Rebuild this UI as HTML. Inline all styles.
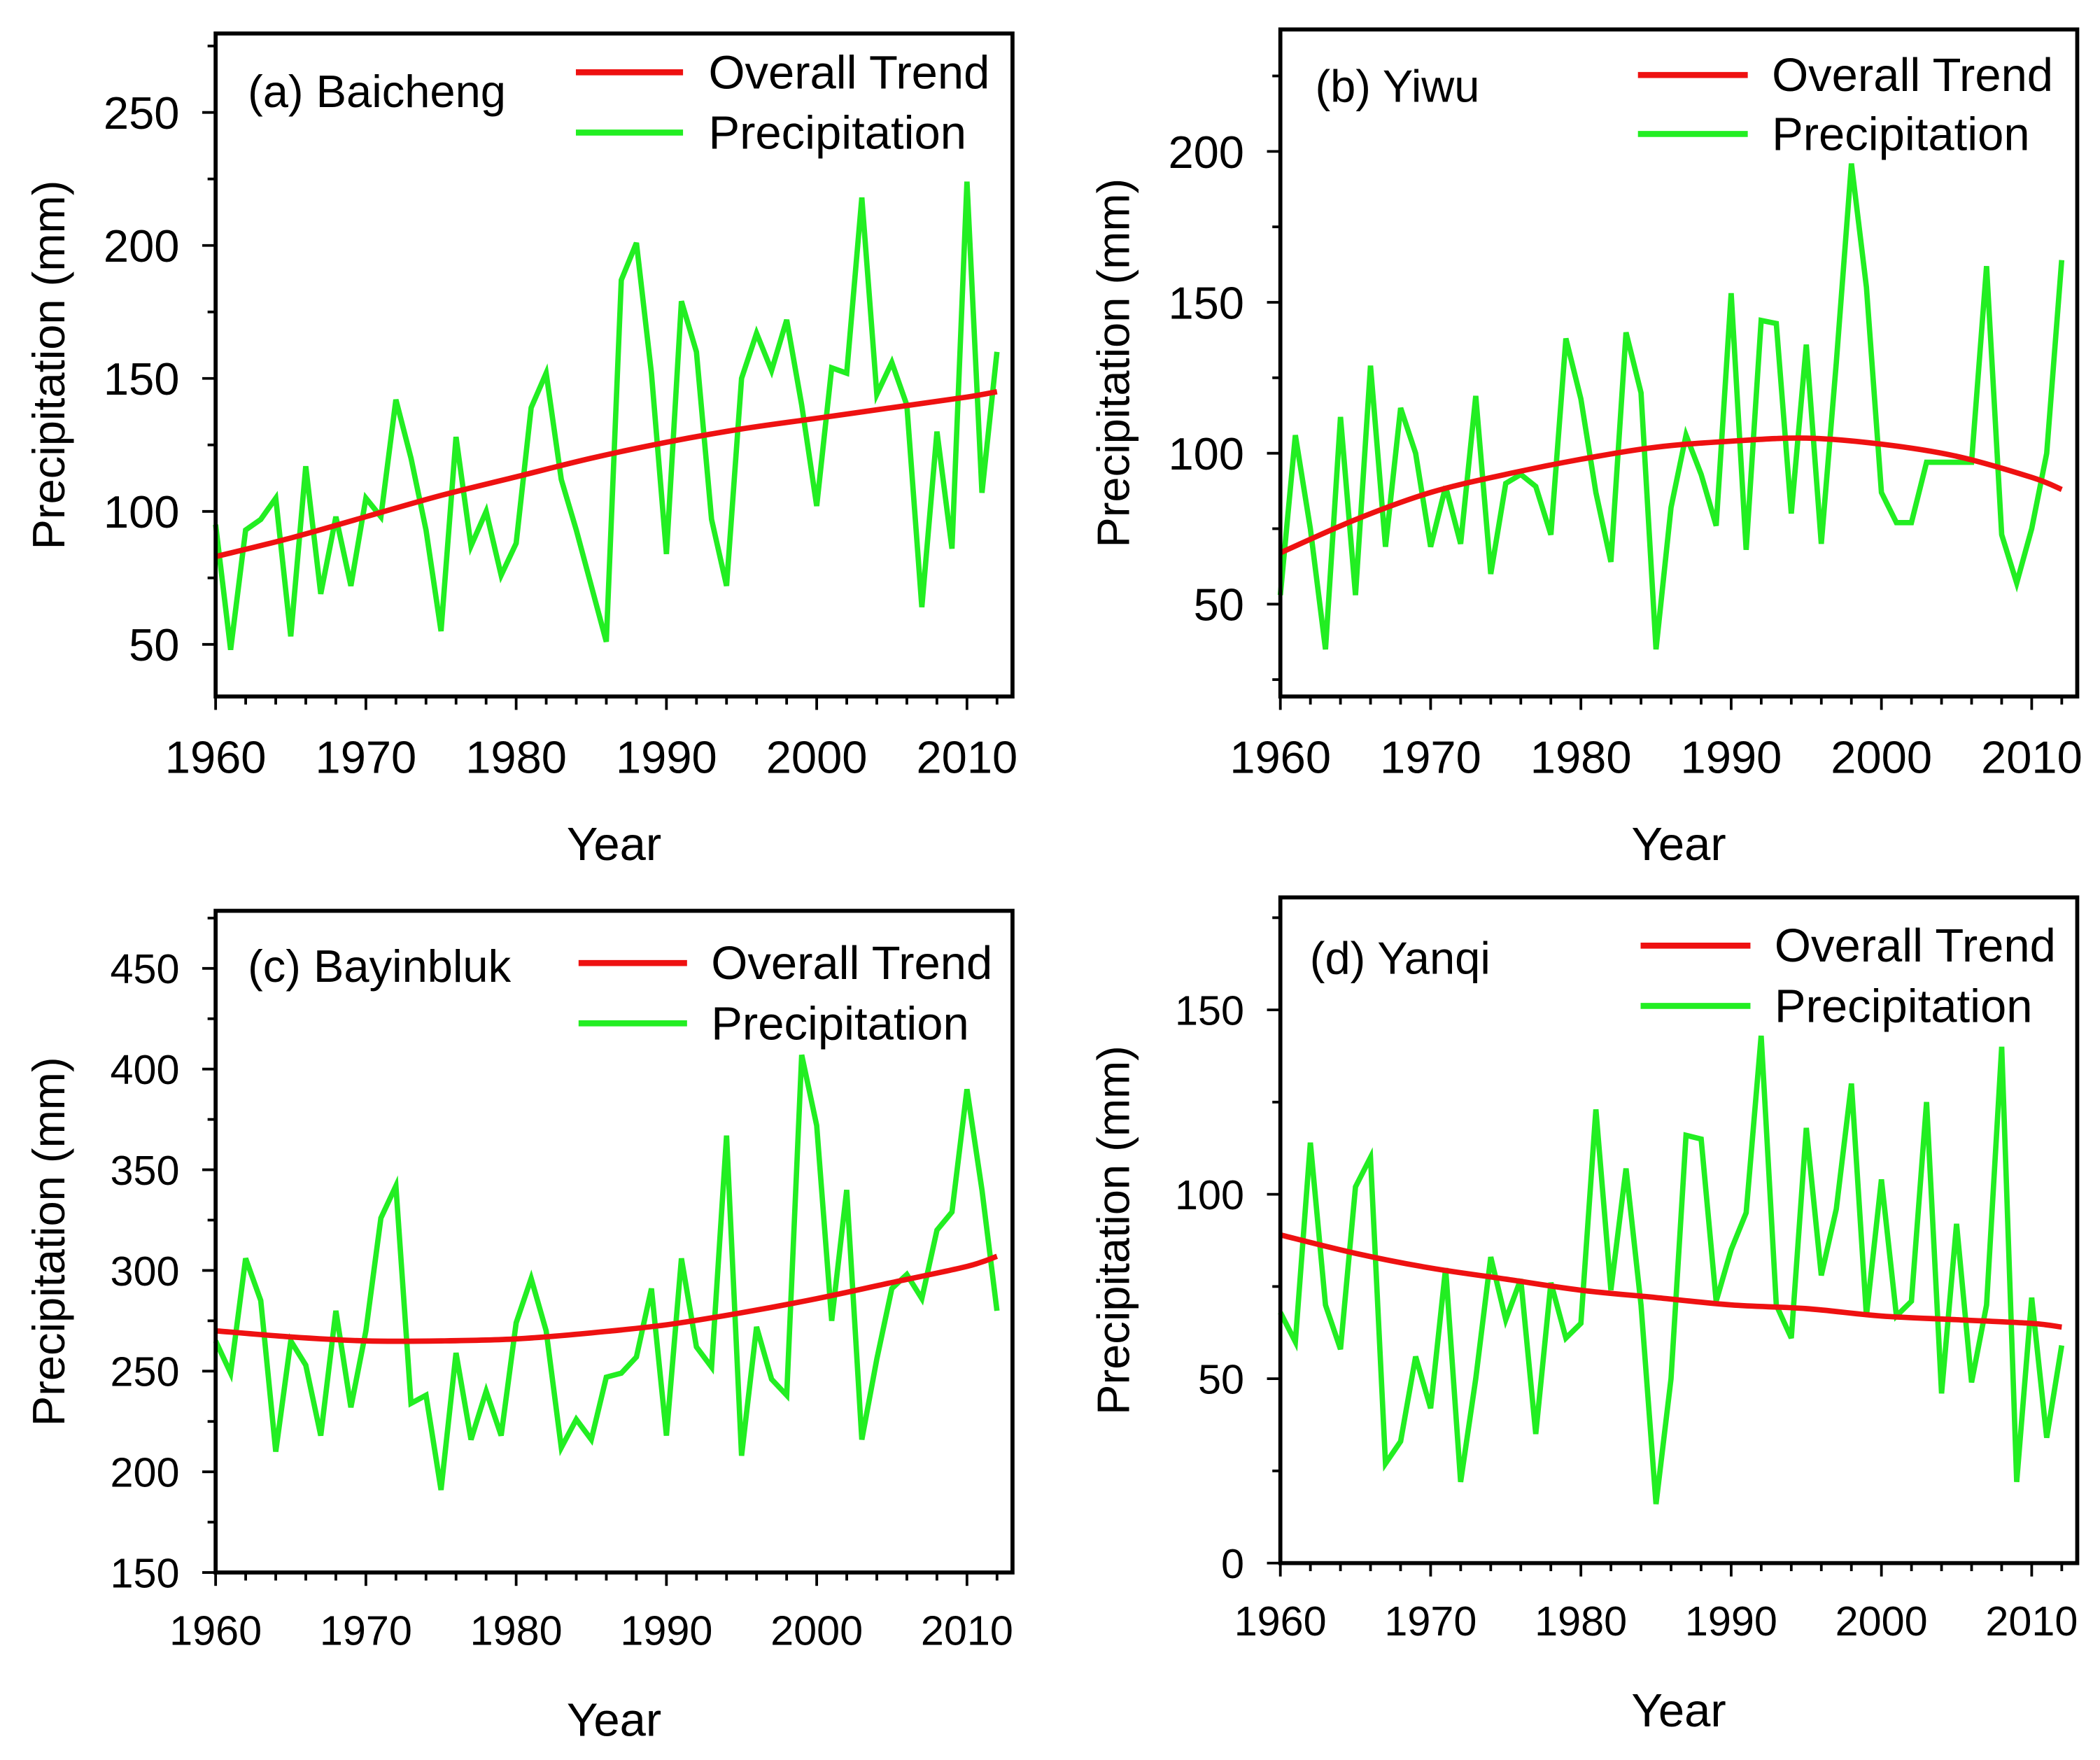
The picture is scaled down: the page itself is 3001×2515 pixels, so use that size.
<!DOCTYPE html>
<html><head><meta charset="utf-8"><style>
html,body{margin:0;padding:0;background:#fff}
svg{display:block}
text{font-family:"Liberation Sans",Arial,sans-serif;fill:#000}
</style></head><body>
<svg id="chart" width="3001" height="2515" viewBox="0 0 1568 1314" preserveAspectRatio="none" xmlns="http://www.w3.org/2000/svg"></svg>
<script>
const years = []; for (let y = 1960; y <= 2012; y++) years.push(y);
const trendYears = [1960,1965,1970,1975,1980,1985,1990,1995,2000,2005,2010,2012];

const precipA = [95,48,93,97,105,53,117,69,98,72,105,98,142,120,93,55,128,87,100,76,88,139,152,112,93,72,51,187,201,152,84,179,160,97,72,150,167,153,172,140,102,154,152,218,144,156,140,64,130,86,224,107,160];
const trendA = [83,90,98,106,113,120,126,131,135,139,143,145];
const precipB = [53,106,75,35,112,53,129,69,115,100,69,89,70,119,60,90,93,89,73,138,118,87,64,140,120,35,82,106,93,76,153,68,144,143,80,136,70,130,196,155,87,77,77,97,97,97,97,162,73,57,75,100,164];
const trendB = [67,78,87,93,98,102,104,105,103,99,92,88];
const precipC = [265,249,306,285,210,265,253,218,280,232,270,326,342,234,238,191,259,216,240,218,274,296,270,212,226,216,247,249,257,291,218,306,262,252,367,208,272,246,238,407,372,275,340,216,256,291,298,286,320,329,390,340,280];
const trendC = [270,267,265,265,266,269,273,279,286,294,302,307];
const precipD = [68,60,114,70,58,102,110,27,33,56,42,80,22,50,83,66,77,35,76,61,65,123,74,107,70,16,50,116,115,71,85,95,143,70,61,118,78,96,130,67,104,67,71,125,46,92,49,70,140,22,72,34,59];
const trendD = [89,84,80,77,74,72,70,69,67,66,65,64];

const yTicksA = [50,100,150,200,250];
const yTicksB = [50,100,150,200];
const yTicksC = [150,200,250,300,350,400,450];
const yTicksD = [0,50,100,150];
const xTicks = [1960,1970,1980,1990,2000,2010];

const NS = "http://www.w3.org/2000/svg";
const svg = document.getElementById('chart');
function el(tag, attrs, parent){const e=document.createElementNS(NS,tag);for(const k in attrs)e.setAttribute(k,attrs[k]);(parent||svg).appendChild(e);return e;}

const panels = [
 {id:'a',name:'(a) Baicheng',x0:161,x1:756,y0:25,y1:520,ymin:30.4,ymax:279.7,ticks:yTicksA,minor:25,p:precipA,t:trendA,fs:34,lab:[185,80],leg:[430,510,54,99,529]},
 {id:'b',name:'(b) Yiwu',x0:956,x1:1551,y0:22,y1:520,ymin:19.4,ymax:240.4,ticks:yTicksB,minor:25,p:precipB,t:trendB,fs:34,lab:[982,76],leg:[1223,1305,56,100,1323]},
 {id:'c',name:'(c) Bayinbluk',x0:161,x1:756,y0:680,y1:1174,ymin:150,ymax:478.6,ticks:yTicksC,minor:25,p:precipC,t:trendC,fs:31,lab:[185,733],leg:[432,513,719,764,531]},
 {id:'d',name:'(d) Yanqi',x0:956,x1:1551,y0:670,y1:1167,ymin:0,ymax:180.5,ticks:yTicksD,minor:25,p:precipD,t:trendD,fs:31,lab:[978,727],leg:[1225,1307,706,751,1325]}
];

panels.forEach(P=>{
  const g = el('g',{});
  
  
  const X = v => P.x0 + (v-1960)/(2013.03-1960)*(P.x1-P.x0);
  const Y = v => P.y1 - (v-P.ymin)/(P.ymax-P.ymin)*(P.y1-P.y0);
  for(let v=Math.ceil(P.ymin/P.minor)*P.minor; v<=P.ymax; v+=P.minor){
    const major = P.ticks.includes(v);
    const t = el('line',{x1:P.x0,x2:P.x0-(major?10:6),y1:Y(v),y2:Y(v),stroke:'#000','stroke-width':2},g);
    
    
  }
  P.ticks.forEach(v=>{
    const t = el('text',{x:P.x0-27,y:Y(v)+P.fs*0.36,'text-anchor':'end','font-size':P.fs},g);
    t.textContent=v;
    
    
  });
  for(let v=1960; v<=2012; v+=2){
    const major = xTicks.includes(v);
    const t = el('line',{x1:X(v),x2:X(v),y1:P.y1,y2:P.y1+(major?10:6),stroke:'#000','stroke-width':2},g);
    
    
  }
  xTicks.forEach(v=>{
    const t = el('text',{x:X(v),y:P.y1+P.fs+23,'text-anchor':'middle','font-size':P.fs},g);
    t.textContent=v;
    
    
  });
  const xt = el('text',{x:(P.x0+P.x1)/2,y:P.y1+122,'text-anchor':'middle','font-size':35},g);
  xt.textContent='Year';
  
  
  const ym=(P.y0+P.y1)/2, yx=P.x0-113;
  const yt = el('text',{x:yx,y:ym,'text-anchor':'middle','font-size':34,transform:`rotate(-90 ${yx} ${ym})`},g);
  yt.textContent='Precipitation (mm)';
  
  
  const pd = P.p.map((v,i)=>(i?'L':'M')+X(years[i]).toFixed(1)+' '+Y(v).toFixed(1)).join(' ');
  const pl = el('path',{d:pd,fill:'none',stroke:'#22ee22','stroke-width':4,'stroke-linejoin':'miter'},g);
  
  
  const pts = P.t.map((v,i)=>[X(trendYears[i]),Y(v)]);
  let td='M'+pts[0][0]+' '+pts[0][1];
  for(let i=0;i<pts.length-1;i++){
    const p0=pts[Math.max(0,i-1)],p1=pts[i],p2=pts[i+1],p3=pts[Math.min(pts.length-1,i+2)];
    const c1=[p1[0]+(p2[0]-p0[0])/6,p1[1]+(p2[1]-p0[1])/6];
    const c2=[p2[0]-(p3[0]-p1[0])/6,p2[1]-(p3[1]-p1[1])/6];
    td+=` C${c1[0]} ${c1[1]} ${c2[0]} ${c2[1]} ${p2[0]} ${p2[1]}`;
  }
  const tl = el('path',{d:td,fill:'none',stroke:'#ee1111','stroke-width':4},g);
  
  
  const fr = el('rect',{x:P.x0,y:P.y0,width:P.x1-P.x0,height:P.y1-P.y0,fill:'none',stroke:'#000','stroke-width':3},g);
  
  
  const lb = el('text',{x:P.lab[0],y:P.lab[1],'font-size':34},g);
  lb.textContent=P.name;
  
  
  const L=P.leg;
  const l1 = el('line',{x1:L[0],x2:L[1],y1:L[2],y2:L[2],stroke:'#ee1111','stroke-width':4.5},g);
  
  
  const t1 = el('text',{x:L[4],y:L[2]+12,'font-size':35},g);
  t1.textContent='Overall Trend';
  
  
  const l2 = el('line',{x1:L[0],x2:L[1],y1:L[3],y2:L[3],stroke:'#22ee22','stroke-width':4.5},g);
  
  
  const t2 = el('text',{x:L[4],y:L[3]+12,'font-size':35},g);
  t2.textContent='Precipitation';
  
  
});
</script>
</body></html>
